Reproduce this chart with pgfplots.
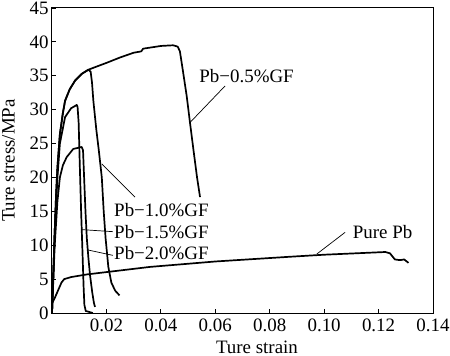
\documentclass[border=0pt]{standalone}
\usepackage{fontspec}
\setmainfont{Liberation Serif}
\usepackage{pgfplots}
\pgfplotsset{compat=1.18}
\tikzset{curve/.style={black, no marks, line width=1.7bp, line join=round}}
\begin{document}
\begin{tikzpicture}
\begin{axis}[
  scale only axis, width=381bp, height=305bp,
  xmin=0, xmax=0.14, ymin=0, ymax=45,
  xtick={0.02,0.04,0.06,0.08,0.10,0.12,0.14},
  xticklabels={0.02,0.04,0.06,0.08,0.10,0.12,0.14},
  ytick={0,5,10,15,20,25,30,35,40,45},
  tick align=inside, tick pos=left,
  major tick length=4bp,
  axis line style={line width=1bp},
  every tick/.style={black, line width=0.8bp},
  font=\fontsize{19}{22}\selectfont,
  /pgf/number format/assume math mode=true,
  xticklabel style={yshift=-2bp},
  xlabel={Ture strain}, ylabel={Ture stress/MPa},
  xlabel style={at={(axis description cs:0.538,-0.111)}, anchor=center},
  ylabel style={at={(axis description cs:-0.114,0.5)}, anchor=center},
]
% Pb-0.5%GF
\addplot[curve] coordinates {(0,0) (0.0005,6) (0.001,12) (0.0015,17.5) (0.002,21.5) (0.0029,26.4) (0.004,29.5) (0.0048,31.3) (0.0065,33) (0.0085,34.3) (0.011,35.3) (0.0134,35.9) (0.016,36.3) (0.02,36.9) (0.025,37.7) (0.03,38.4) (0.0328,38.6) (0.0335,39.0) (0.04,39.4) (0.0445,39.5) (0.0462,39.3) (0.047,38.6) (0.048,36) (0.0495,32) (0.0507,28.1) (0.052,24) (0.0533,20) (0.0544,17.1)};
% Pb-1.0%GF
\addplot[curve] coordinates {(0,0) (0.0005,6) (0.001,12) (0.0015,17.5) (0.002,21.5) (0.0029,26.4) (0.004,29.5) (0.0048,31.3) (0.0065,33) (0.0085,34.3) (0.011,35.3) (0.0134,35.9) (0.0142,35.6) (0.0147,34) (0.0152,31.3) (0.0163,27) (0.0172,24) (0.0183,20) (0.019,15) (0.0197,11) (0.0207,6.8) (0.0218,4.5) (0.0232,3.3) (0.0248,2.6)};
% Pb-1.5%GF
\addplot[curve] coordinates {(0,0) (0.0005,6) (0.001,12) (0.002,20) (0.0029,25) (0.0048,28.9) (0.007,30.2) (0.0091,30.7) (0.0094,30.4) (0.0098,28) (0.0102,22) (0.0107,15) (0.0112,9) (0.0116,4) (0.0119,1.2) (0.0124,0.3) (0.0150,0.0)};
% Pb-2.0%GF
\addplot[curve] coordinates {(0,0) (0.0005,5) (0.001,10) (0.002,16.5) (0.0029,20) (0.004,21.8) (0.0054,23) (0.0078,24.2) (0.0109,24.5) (0.0114,24) (0.0118,20) (0.0123,15) (0.0128,11) (0.0134,8) (0.014,5.5) (0.0148,3) (0.0154,1.5) (0.0158,0.9)};
% Pure Pb
\addplot[curve] coordinates {(0,1.4) (0.001,2.2) (0.0023,3.4) (0.0035,4.5) (0.0045,5.0) (0.007,5.3) (0.013,5.7) (0.036,6.8) (0.06,7.6) (0.0875,8.3) (0.1,8.6) (0.1225,9.0) (0.1242,8.8) (0.126,7.9) (0.1279,7.8) (0.1294,7.9) (0.131,7.4)};
% leaders
\draw[line width=0.7bp] (axis cs:0.0507,28.1) -- (axis cs:0.0636,33.5);
\draw[line width=0.7bp] (axis cs:0.0183,22.0) -- (axis cs:0.0305,17.1);
\draw[line width=0.7bp] (axis cs:0.0110,12.3) -- (axis cs:0.0224,12.0);
\draw[line width=0.7bp] (axis cs:0.0132,9.3) -- (axis cs:0.0224,8.5);
\draw[line width=0.7bp] (axis cs:0.0973,8.7) -- (axis cs:0.1077,11.9);
\node[anchor=west, inner sep=0] at (axis cs:0.0541,35.0) {Pb−0.5\%GF};
\node[anchor=west, inner sep=0] at (axis cs:0.0228,15.15) {Pb−1.0\%GF};
\node[anchor=west, inner sep=0] at (axis cs:0.0228,11.96) {Pb−1.5\%GF};
\node[anchor=west, inner sep=0] at (axis cs:0.0228,8.82) {Pb−2.0\%GF};
\node[anchor=west, inner sep=0] at (axis cs:0.1105,12.0) {Pure Pb};
\end{axis}
\pgfresetboundingbox
\path ([shift={(-52bp,-43bp)}]current axis.south west) rectangle ([shift={(17bp,8bp)}]current axis.north east);
\end{tikzpicture}
\end{document}
